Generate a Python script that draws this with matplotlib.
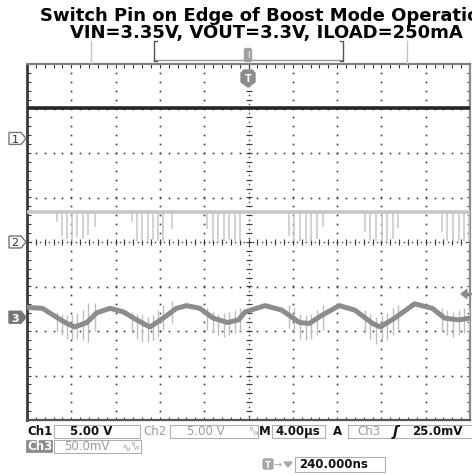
import matplotlib
matplotlib.use("Agg")
import matplotlib.pyplot as plt
from matplotlib.patches import Rectangle, Polygon, FancyBboxPatch
from matplotlib.collections import LineCollection
import numpy as np

# ---------------- scope settings ----------------
time_per_div_us = 4.0
n_hdiv, n_vdiv = 10, 8
ch1_volts_per_div = 5.0
ch2_volts_per_div = 5.0
ch3_mv_per_div = 50.0
ch1_ground_div = 2.35
ch2_ground_div = 0.0
ch3_ground_div = -1.69

title_line1 = "Switch Pin on Edge of Boost Mode Operation"
title_line2 = "VIN=3.35V, VOUT=3.3V, ILOAD=250mA"

# ---------------- CH1: output voltage ----------------
ch1_time_us = [0.0, 40.0]
ch1_volts = [3.3, 3.3]

# ---------------- CH2: switch pin ----------------
ch2_level_v = 3.35
ch2_spike_time_us = [
    2.71, 3.16, 3.61, 4.06, 4.51, 5.06, 5.51, 6.14,
    9.48, 9.93, 10.38, 10.93, 11.38, 11.83, 12.28, 13.09,
    16.25, 16.79, 17.25, 17.79, 18.24, 18.78, 19.23,
    23.66, 24.11, 24.65, 25.19, 25.64, 26.19, 26.73,
    30.52, 30.97, 31.51, 32.05, 32.51, 33.05, 33.50,
    37.47, 37.92, 38.47, 39.01, 39.46, 39.90,
]
ch2_spike_min_v = [
    2.2, 0.7, 0.3, 0.1, 0.6, 0.3, 0.8, 1.7,
    2.2, 0.1, 0.1, 0.1, 0.2, 0.1, 0.1, 1.5,
    1.5, 0.1, 0.1, 0.1, 0.2, 0.1, 0.1,
    0.7, 0.1, 0.1, 0.1, 0.1, 0.3, 1.7,
    1.1, 0.1, 0.1, 0.1, 0.1, 0.3, 1.6,
    1.1, 0.1, 0.1, 0.1, 0.1, 0.1,
]

# ---------------- CH3: output ripple (AC coupled) ----------------
ch3_time_us = [0.0, 1.4, 2.4, 3.6, 4.3, 5.4, 6.3, 7.5, 8.7, 9.9, 11.1, 12.3,
               13.5, 14.4, 15.6, 16.8, 18.1, 19.1, 19.7, 21.5, 23.0, 24.6,
               25.5, 26.6, 28.2, 29.6, 31.2, 31.9, 33.2, 35.0, 36.6, 37.7,
               39.0, 40.0]
ch3_ripple_mv = [11, 10, 2, -7, -11, -6, 5, 10, 6, -3, -11, -1,
                 10, 13, 10, -1, -6, -3, 6, 13, 8, -6,
                 -7, 2, 13, 8, -7, -11, -1, 15, 10, -1,
                 -3, -1]
ch3_spike_top_mv = [
    6, 4, 2, 3, 5, 8, 16, 16,
    6, 4, 2, 0, 3, 8, 14, 18,
    10, 6, 4, 5, 6, 8, 10,
    14, 10, 4, 2, 4, 8, 14,
    8, 4, 0, 2, 5, 10, 14,
    10, 8, 6, 8, 10, 10,
]
ch3_spike_bot_mv = [
    -15, -20, -24, -25, -24, -26, -28, -15,
    -18, -24, -28, -28, -26, -22, -14, -6,
    -14, -18, -20, -22, -20, -18, -16,
    -12, -18, -24, -26, -24, -20, -14,
    -18, -24, -30, -28, -26, -20, -14,
    -16, -20, -22, -20, -18, -16,
]

# ---------------- figure ----------------
W, H = 472, 477
fig = plt.figure(figsize=(W / 100, H / 100), dpi=100)
fig.patch.set_facecolor("white")

left_px, right_px, top_px, bot_px = 27, 470, 65, 421
rect = [left_px / W, 1 - bot_px / H, (right_px - left_px) / W, (bot_px - top_px) / H]

t_max = time_per_div_us * n_hdiv
ax = fig.add_axes(rect)
ax.set_xlim(0, t_max)
ax.set_ylim(-n_vdiv / 2, n_vdiv / 2)
ax.set_xticks([])
ax.set_yticks([])
for side, col, lw in [("left", "#3a3a3a", 2.0), ("bottom", "#555555", 1.6),
                      ("top", "#808080", 1.6), ("right", "#8a8a8a", 1.6)]:
    ax.spines[side].set_color(col)
    ax.spines[side].set_linewidth(lw)

px_per_div_x = (right_px - left_px) / n_hdiv
px_per_div_y = (bot_px - top_px) / n_vdiv
us_per_px = time_per_div_us / px_per_div_x
div_per_px = 1 / px_per_div_y

grid_col = "#3c3c3c"
minor_y = np.arange(-4 + 0.2, 4 - 0.1, 0.2)
minor_t = np.arange(0.8, t_max - 0.1, 0.8)

# dotted major graticule lines
for k in range(1, n_hdiv):
    if k == n_hdiv // 2:
        continue
    t = k * time_per_div_us
    ax.plot(np.full_like(minor_y, t), minor_y, ls="none", marker="s",
            ms=1.2, mew=0, color=grid_col, zorder=1)
for k in range(-3, 4):
    if k == 0:
        continue
    ax.plot(minor_t, np.full_like(minor_t, k), ls="none", marker="s",
            ms=1.2, mew=0, color=grid_col, zorder=1)

# centre cross with fine dots and minor ticks
fine_y = np.arange(-4, 4.01, 0.1)
fine_t = np.arange(0, t_max + 0.01, 0.4)
ax.plot(np.full_like(fine_y, t_max / 2), fine_y, ls="none", marker="s",
        ms=1.0, mew=0, color=grid_col, zorder=1)
ax.plot(fine_t, np.zeros_like(fine_t), ls="none", marker="s",
        ms=1.0, mew=0, color=grid_col, zorder=1)
tick_half_t = 3 * us_per_px
tick_half_y = 3 * div_per_px
segs = []
for y in minor_y:
    segs.append([(t_max / 2 - tick_half_t, y), (t_max / 2 + tick_half_t, y)])
for t in minor_t:
    segs.append([(t, -tick_half_y), (t, tick_half_y)])
# frame ticks
tick_t = 3.5 * us_per_px
tick_y = 3.5 * div_per_px
for y in minor_y:
    segs.append([(0, y), (tick_t, y)])
    segs.append([(t_max, y), (t_max - tick_t, y)])
for t in minor_t:
    segs.append([(t, -4), (t, -4 + tick_y)])
    segs.append([(t, 4), (t, 4 - tick_y)])
ax.add_collection(LineCollection(segs, colors=grid_col, linewidths=0.8, zorder=1))

# ---------------- channel axes ----------------
def channel_axes(ground_div, units_per_div):
    cax = fig.add_axes(rect, sharex=ax)
    cax.set_ylim((-n_vdiv / 2 - ground_div) * units_per_div,
                 (n_vdiv / 2 - ground_div) * units_per_div)
    cax.axis("off")
    cax.patch.set_visible(False)
    return cax

ax1 = channel_axes(ch1_ground_div, ch1_volts_per_div)
ax2 = channel_axes(ch2_ground_div, ch2_volts_per_div)
ax3 = channel_axes(ch3_ground_div, ch3_mv_per_div)

# CH2 switch node
ax2.plot([0, t_max], [ch2_level_v, ch2_level_v], color="#c6c6c6", lw=2.6,
         solid_capstyle="butt", zorder=2)
ax2.vlines(ch2_spike_time_us, ch2_spike_min_v, ch2_level_v, color="#c6c6c6",
           lw=1.1, zorder=2)

# CH1 output
ax1.plot(ch1_time_us, ch1_volts, color="#262626", lw=2.6,
         solid_capstyle="butt", zorder=3)

# CH3 ripple
ax3.vlines(ch2_spike_time_us, ch3_spike_bot_mv, ch3_spike_top_mv,
           color="#bdbdbd", lw=1.0, zorder=2)
ax3.plot(ch3_time_us, ch3_ripple_mv, color="#8c8c8c", lw=3.6,
         solid_joinstyle="round", zorder=3)

# ---------------- pixel overlay for annotations ----------------
ov = fig.add_axes([0, 0, 1, 1])
ov.set_xlim(0, W)
ov.set_ylim(H, 0)
ov.axis("off")
ov.patch.set_visible(False)

ov.text(266, 7, title_line1 + "\n" + title_line2, ha="center", va="top",
        multialignment="center", fontsize=13, fontweight="bold",
        family="DejaVu Sans", color="black", linespacing=0.95)

# record view bar
bar_col = "#9a9a9a"
ov.plot([154, 343], [61, 61], color=bar_col, lw=1.0)
ov.plot([157, 154, 154, 157], [42, 42, 62, 62], color="#555555", lw=1.0)
ov.plot([340, 343, 343, 340], [42, 42, 62, 62], color="#555555", lw=1.0)
ov.plot([91, 91], [42, 64], color="#c4c4c4", lw=1.0)
ov.plot([407, 407], [42, 64], color="#c4c4c4", lw=1.0)
ov.add_patch(FancyBboxPatch((245, 50), 6, 12, boxstyle="round,pad=0.5,rounding_size=2",
                            fc="#a0a0a0", ec="#a0a0a0"))
ov.text(248, 56, "I", ha="center", va="center", fontsize=6, color="white")

# trigger position marker
ov.add_patch(Polygon([(241, 74), (241, 83), (248, 88), (255, 83), (255, 74),
                      (252, 71), (244, 71)], closed=True, fc="#8c8c8c", ec="#8c8c8c"))
ov.text(248, 79, "T", ha="center", va="center", fontsize=7, color="white",
        fontweight="bold")

# channel ground markers
def gnd_marker(y, label, filled):
    pts = [(9, y - 6), (21, y - 6), (26, y), (21, y + 6), (9, y + 6)]
    if filled:
        ov.add_patch(Polygon(pts, closed=True, fc="#777777", ec="#777777", lw=1))
        ov.text(15, y + 0.5, label, ha="center", va="center", fontsize=8,
                color="white", fontweight="bold")
    else:
        ov.add_patch(Polygon(pts, closed=True, fc="white", ec="#777777", lw=1))
        ov.text(15, y + 0.5, label, ha="center", va="center", fontsize=8,
                color="#333333")

px_ground = lambda g: 243 - g * px_per_div_y
gnd_marker(px_ground(ch1_ground_div) + 1, "1", False)
gnd_marker(px_ground(ch2_ground_div), "2", False)
gnd_marker(px_ground(ch3_ground_div), "3", True)

# trigger level arrow
ov.add_patch(Polygon([(461, 295), (467, 290.5), (467, 299.5)], closed=True,
                     fc="#8c8c8c", ec="#8c8c8c"))
ov.plot([465, 472], [295, 295], color="#8c8c8c", lw=1.6)

# ---------------- readouts ----------------
box_ec = "#b0b0b0"
def box(x0, y0, x1, y1):
    ov.add_patch(Rectangle((x0, y0), x1 - x0, y1 - y0, fc="white", ec=box_ec, lw=0.8))

black = dict(fontsize=8.5, color="#111111", fontweight="bold", va="center",
             family="DejaVu Sans")
grey = dict(fontsize=8.5, color="#9a9a9a", va="center", family="DejaVu Sans")

r1 = 432
box(54, 425.5, 140, 438.5)
box(170, 425.5, 258, 438.5)
box(272, 425.5, 325, 438.5)
box(348, 425.5, 475, 438.5)
ov.text(27, r1, "Ch1", **black)
ov.text(70, r1, "5.00 V", **black)
ov.text(143, r1, "Ch2", **grey)
ov.text(187, r1, "5.00 V", **grey)
ov.text(250, r1 - 2.5, "B", fontsize=4, color="#9a9a9a", va="center")
ov.text(253, r1 + 2, "W", fontsize=4, color="#9a9a9a", va="center")
ov.text(259, r1, "M", **black)
ov.text(275, r1, "4.00\u00b5s", **black)
ov.text(333, r1, "A", **black)
ov.text(357, r1, "Ch3", **grey)
ov.text(393, r1, "\u0283", fontsize=10, color="#111111", va="center",
        fontweight="bold", style="italic")
ov.text(412, r1, "25.0mV", **black)

r2 = 447
ov.add_patch(Rectangle((26, 441), 26, 12, fc="#8a8a8a", ec="#8a8a8a", lw=0.5))
ov.text(27.5, r2, "Ch3", fontsize=8.5, color="white", va="center", fontweight="bold")
box(54, 440.5, 141, 453.5)
ov.text(64, r2, "50.0mV", **grey)
ov.text(122, r2, "\u223f", fontsize=8, color="#9a9a9a", va="center")
ov.text(131, r2 - 2.5, "B", fontsize=4, color="#9a9a9a", va="center")
ov.text(134, r2 + 2, "W", fontsize=4, color="#9a9a9a", va="center")

r3 = 465
ov.add_patch(FancyBboxPatch((263, 460), 10, 10, boxstyle="round,pad=0,rounding_size=1.5",
                            fc="#a8a8a8", ec="#a8a8a8"))
ov.text(268, 465.5, "T", ha="center", va="center", fontsize=6, color="white",
        fontweight="bold")
ov.text(274, r3, "\u2192", fontsize=7, color="#a8a8a8", va="center")
ov.add_patch(Polygon([(284, 463), (292, 463), (288, 468)], closed=True,
                     fc="#a8a8a8", ec="#a8a8a8"))
box(295, 457.5, 385, 472.5)
ov.text(299, r3, "240.000ns", **black)

fig.savefig("out.png", dpi=100, facecolor="white")
